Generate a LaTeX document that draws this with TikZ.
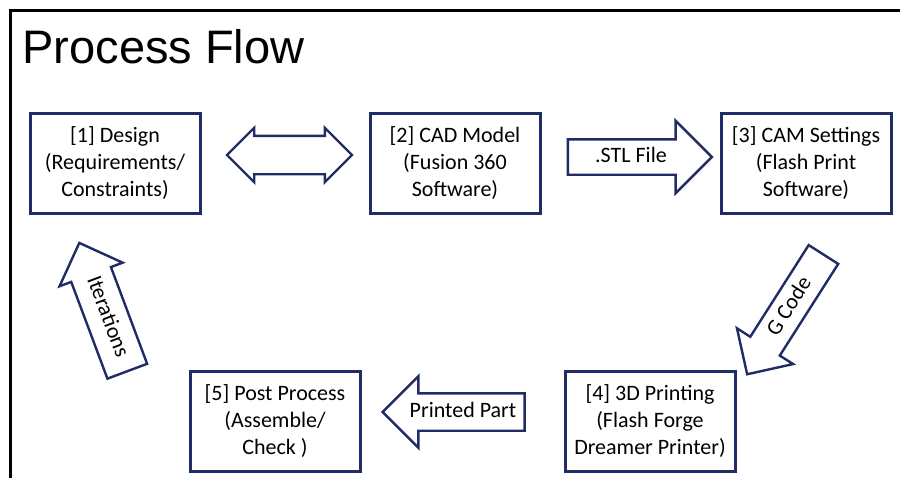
\documentclass[tikz,border=0pt]{standalone}
\usepackage{fontspec}
\setmainfont{Carlito}
\newfontfamily\titlefont{Liberation Sans}
\usepackage{xcolor}
\usetikzlibrary{shapes, arrows, positioning}
\definecolor{navy}{RGB}{32,44,102}

\begin{document}
\begin{tikzpicture}[x=0.5pt, y=0.5pt,
    stage/.style={draw=navy, line width=1.5pt, minimum width=85pt, minimum height=50pt,
      align=center, inner sep=0pt, font=\fontsize{11}{13.3}\selectfont},
    flow/.style={single arrow, draw=navy, fill=white, line width=1.2pt, inner xsep=0pt,
      text height=8pt, text depth=2.5pt, font=\fontsize{11}{13}\selectfont}]
  \useasboundingbox (0,0) rectangle (900,478);

  % frame and title
  \draw[line width=1.5pt] (10,0) -- (10,467) -- (900,467);
  \node[anchor=base west, inner sep=0pt, font=\titlefont\fontsize{23.5}{28}\selectfont] (title) at (22,415) {Process Flow};

  % the five stages
  \node[stage] (design) at (115,315) {[1] Design\\(Requirements/\\Constraints)};
  \node[stage] (cad) at (455,315) {[2] CAD Model\\(Fusion 360\\Software)};
  \node[stage] (cam) at (806,315) {[3] CAM Settings\\(Flash Print\\Software)};
  \node[stage] (print) at (650,57) {[4] 3D Printing\\(Flash Forge\\Dreamer Printer)};
  \node[stage] (post) at (275,57) {[5] Post Process\\(Assemble/\\Check )};

  % block arrows between the stages
  \node[double arrow, draw=navy, fill=white, line width=1.2pt, inner sep=9pt, minimum height=62.5pt,
    minimum width=26pt, double arrow head extend=4pt] (loop) at (289.5,323) {};
  \node[flow, inner ysep=3pt, minimum height=72pt, minimum width=35pt,
    single arrow head extend=9.25pt] (stl) at (631,321) {.STL File};
  \node[flow, rotate=57.5, shape border rotate=180, inner ysep=2.9pt, minimum height=71pt,
    minimum width=32pt, single arrow head extend=7.9pt] (gcode) at (790,171) {G Code};
  \node[flow, shape border rotate=180, inner ysep=3.5pt, minimum height=71pt,
    minimum width=34.5pt, single arrow head extend=8.5pt] (part) at (463,66) {Printed Part};
  \node[flow, rotate=-69.5, shape border rotate=180, inner ysep=4.75pt, minimum height=68.5pt,
    minimum width=32.5pt, single arrow head extend=6.25pt] (iter) at (107,161) {Iterations};
\end{tikzpicture}
\end{document}
